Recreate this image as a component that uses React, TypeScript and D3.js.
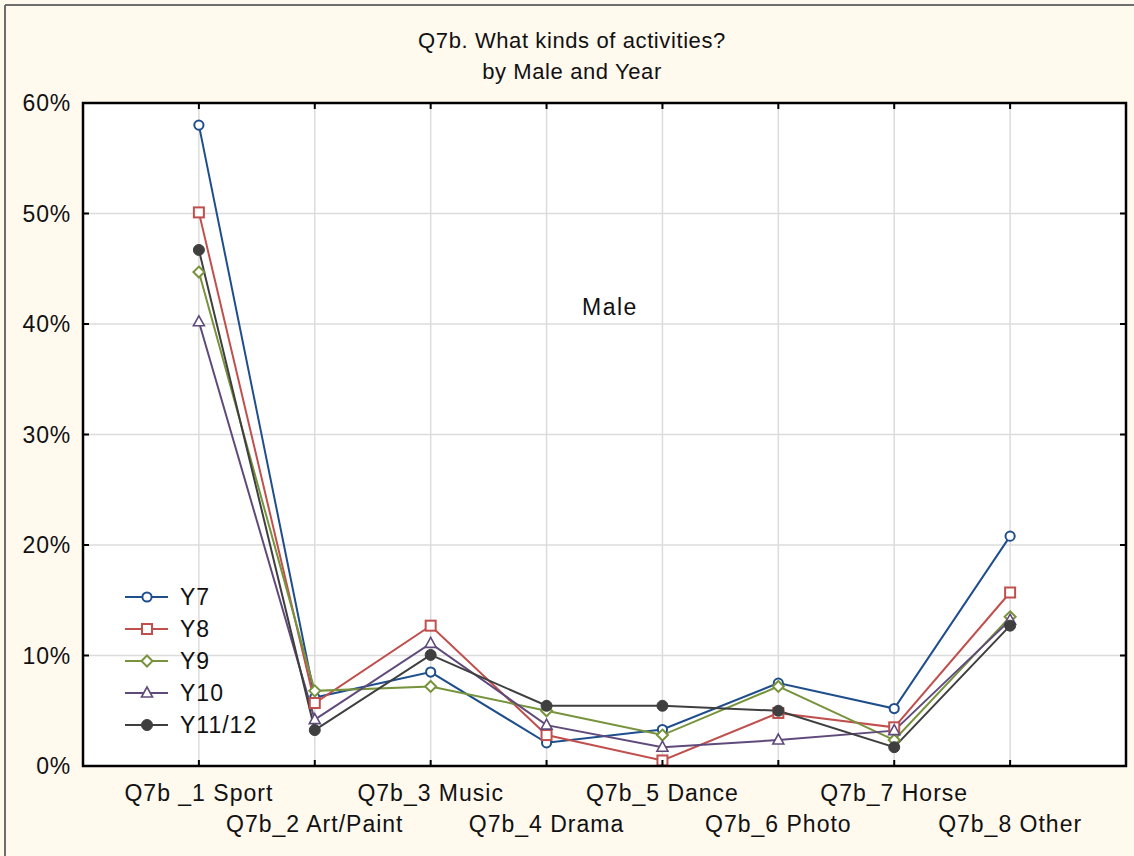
import React from "react";
import * as d3 from "d3";

const categories = [
  "Q7b _1 Sport",
  "Q7b_2 Art/Paint",
  "Q7b_3 Music",
  "Q7b_4 Drama",
  "Q7b_5 Dance",
  "Q7b_6 Photo",
  "Q7b_7 Horse",
  "Q7b_8 Other",
];

const seriesNames = ["Y7", "Y8", "Y9", "Y10", "Y11/12"];
const y7 = [58.0, 6.2, 8.5, 2.1, 3.3, 7.5, 5.2, 20.8];
const y8 = [50.1, 5.7, 12.7, 2.8, 0.5, 4.8, 3.5, 15.7];
const y9 = [44.7, 6.8, 7.2, 5.0, 2.8, 7.2, 2.35, 13.5];
const y10 = [40.2, 4.2, 11.1, 3.7, 1.7, 2.35, 3.2, 13.2];
const y11 = [46.7, 3.25, 10.05, 5.45, 5.45, 5.0, 1.7, 12.7];
const seriesValues = [y7, y8, y9, y10, y11];
const seriesColors = ["#1F4E8C", "#C0504D", "#77933C", "#604A7B", "#3F3F3F"];
const seriesMarkers = ["circle", "square", "diamond", "triangle", "dot"];

const yTicks = [0, 10, 20, 30, 40, 50, 60];

const W = 1134;
const H = 856;
const L = 83;
const R = 1126;
const T = 103;
const B = 766;
const FONT = "'Liberation Sans', Arial, sans-serif";

function Marker({ type, x, y, color }: { type: string; x: number; y: number; color: string }) {
  const s = 5;
  if (type === "circle")
    return <circle cx={x} cy={y} r={4.6} fill="white" stroke={color} strokeWidth={2} />;
  if (type === "square")
    return <rect x={x - s} y={y - s} width={2 * s} height={2 * s} fill="white" stroke={color} strokeWidth={2} />;
  if (type === "diamond")
    return (
      <path
        d={`M${x},${y - 5.5}L${x + 5.5},${y}L${x},${y + 5.5}L${x - 5.5},${y}Z`}
        fill="white"
        stroke={color}
        strokeWidth={2}
      />
    );
  if (type === "triangle")
    return (
      <path
        d={`M${x},${y - 6}L${x + 5.5},${y + 4}L${x - 5.5},${y + 4}Z`}
        fill="white"
        stroke={color}
        strokeWidth={1.6}
      />
    );
  return <circle cx={x} cy={y} r={5.5} fill={color} stroke={color} strokeWidth={1} />;
}

export default function App() {
  const x = d3.scalePoint<string>().domain(categories).range([L, R]).padding(1);
  const y = d3.scaleLinear().domain([0, 60]).range([B, T]);
  const line = d3
    .line<number>()
    .x((_, i) => x(categories[i]) as number)
    .y((d) => y(d));

  const legendX = 125;
  const legendY0 = 597;
  const legendDy = 32;

  return (
    <div style={{ position: "absolute", left: 0, top: 0 }}>
      <svg width={W} height={H} style={{ display: "block" }} fontFamily={FONT}>
        <rect x={0} y={0} width={W} height={H} fill="#FFF9EE" />
        <line x1={5} y1={5} x2={W} y2={5} stroke="#6E6E6E" strokeWidth={2} />
        <line x1={5} y1={5} x2={5} y2={H} stroke="#6E6E6E" strokeWidth={2} />

        <text x={572} y={48} textAnchor="middle" fontSize={22} letterSpacing={0.6} fill="#111">
          Q7b. What kinds of activities?
        </text>
        <text x={572} y={79} textAnchor="middle" fontSize={22} letterSpacing={0.6} fill="#111">
          by Male and Year
        </text>

        <rect x={L} y={T} width={R - L} height={B - T} fill="white" />

        {yTicks.map((t) => (
          <line key={"gy" + t} x1={L} x2={R} y1={y(t)} y2={y(t)} stroke="#DCDCDC" strokeWidth={1.5} />
        ))}
        {categories.map((c) => (
          <line key={"gx" + c} x1={x(c)} x2={x(c)} y1={T} y2={B} stroke="#DCDCDC" strokeWidth={1.5} />
        ))}

        <text x={610} y={307} textAnchor="middle" dominantBaseline="central" fontSize={23} letterSpacing={1.5} fill="#111">
          Male
        </text>

        {seriesValues.map((vals, si) => (
          <path key={"l" + si} d={line(vals) || ""} fill="none" stroke={seriesColors[si]} strokeWidth={2} />
        ))}
        {seriesValues.map((vals, si) =>
          vals.map((v, i) => (
            <Marker key={"m" + si + "-" + i} type={seriesMarkers[si]} x={x(categories[i]) as number} y={y(v)} color={seriesColors[si]} />
          ))
        )}

        {seriesNames.map((n, si) => {
          const ly = legendY0 + si * legendDy;
          return (
            <g key={"lg" + n}>
              <line x1={legendX} x2={legendX + 43} y1={ly} y2={ly} stroke={seriesColors[si]} strokeWidth={2} />
              <Marker type={seriesMarkers[si]} x={legendX + 22} y={ly} color={seriesColors[si]} />
              <text x={legendX + 55} y={ly} dominantBaseline="central" fontSize={23} letterSpacing={1} fill="#111">
                {n}
              </text>
            </g>
          );
        })}

        {/* inward ticks */}
        {categories.map((c) => (
          <g key={"tx" + c}>
            <line x1={x(c)} x2={x(c)} y1={B} y2={B - 6} stroke="#000" strokeWidth={2} />
            <line x1={x(c)} x2={x(c)} y1={T} y2={T + 6} stroke="#000" strokeWidth={2} />
          </g>
        ))}
        {yTicks.map((t) => (
          <g key={"ty" + t}>
            <line x1={L} x2={L + 6} y1={y(t)} y2={y(t)} stroke="#000" strokeWidth={2} />
            <line x1={R} x2={R - 6} y1={y(t)} y2={y(t)} stroke="#000" strokeWidth={2} />
          </g>
        ))}
        <rect x={L} y={T} width={R - L} height={B - T} fill="none" stroke="#000" strokeWidth={2.5} />

        {yTicks.map((t) => (
          <text key={"yl" + t} x={71} y={y(t)} textAnchor="end" dominantBaseline="central" fontSize={23} letterSpacing={0.8} fill="#111">
            {t + "%"}
          </text>
        ))}
        {categories.map((c, i) => (
          <text
            key={"xl" + c}
            x={x(c) as number}
            y={i % 2 === 0 ? 793 : 824}
            textAnchor="middle"
            dominantBaseline="central"
            fontSize={23}
            letterSpacing={1}
            fill="#111"
          >
            {c}
          </text>
        ))}
      </svg>
    </div>
  );
}
